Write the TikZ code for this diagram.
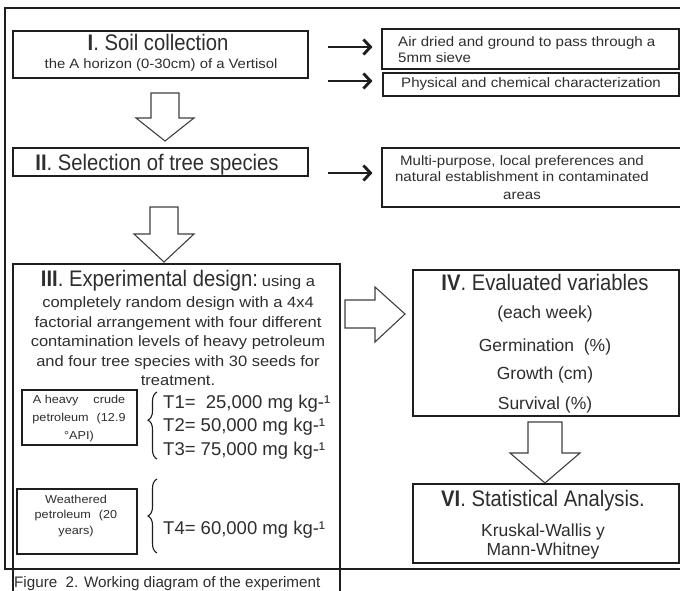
\documentclass[tikz,border=0pt]{standalone}
\usepackage{fontspec}
\setmainfont{Liberation Sans}
\newfontfamily\ttlf{Liberation Sans}[FakeStretch=0.9]
\newfontfamily\bdyf{Liberation Sans}[FakeStretch=1.1]
\usetikzlibrary{arrows.meta,decorations.pathreplacing,fit}
\definecolor{txt}{HTML}{2E2E2E}
\definecolor{ln}{HTML}{1E1E1E}
\newcommand{\hdown}[6]{%
  \draw[hollow] (#1-#5,#2) -- (#1+#5,#2) -- (#1+#5,#3) -- (#1+#6,#3) -- (#1,#4) -- (#1-#6,#3) -- (#1-#5,#3) -- cycle;}
\begin{document}
\begin{tikzpicture}[x=1pt,y=-1pt,
  boxst/.style={draw=ln, line width=1.1pt, inner sep=0pt},
  tx/.style={inner sep=0pt, text=txt},
  ttl/.style={tx, font=\ttlf\fontsize{22.5}{27}\selectfont},
  subt/.style={tx, font=\bdyf\fontsize{13.5}{16}\selectfont},
  rb/.style={tx, font=\bdyf\fontsize{13.7}{16}\selectfont},
  body/.style={tx, font=\bdyf\fontsize{15}{18}\selectfont},
  sb/.style={tx, font=\bdyf\fontsize{11.5}{14}\selectfont},
  tl/.style={tx, font=\fontsize{18.5}{22}\selectfont},
  rv/.style={tx, font=\fontsize{17.5}{21}\selectfont},
  hollow/.style={draw=ln!85, line width=1.1pt, fill=white, line join=miter},
  arr/.style={draw=ln, line width=2.9pt, -{Straight Barb[length=7pt,width=15pt]}},
  brc/.style={draw=ln, line width=1.1pt, decorate, decoration={brace, amplitude=9pt, aspect=#1}},
]
\useasboundingbox (0,0) rectangle (680,591);
\fill[white] (0,0) rectangle (680,591);

% outer frame and experimental design box
\node[boxst, fit={(5,8) (700,569)}] (frame) {};
\node[boxst, fit={(13,264) (340,620)}] (b3) {};

% I. Soil collection
\node[boxst, fit={(13,31) (308,78)}] (b1) {};
\node[ttl, anchor=base] (b1t) at (158,51) {\textbf{I}. Soil collection};
\node[subt, anchor=base] (b1s) at (161,69) {the A horizon (0-30cm) of a Vertisol};

% right boxes at top
\node[boxst, fit={(382,29) (679,69)}] (air) {};
\node[rb, anchor=base west] (air1) at (398,47) {Air dried and ground to pass through a};
\node[rb, anchor=base west] (air2) at (398,63) {5mm sieve};
\node[boxst, fit={(383,73) (679,96)}] (phys) {};
\node[rb, anchor=base west] (phyt) at (401,88) {Physical and chemical characterization};

% II. Selection
\node[boxst, fit={(13,148) (308,176)}] (b2) {};
\node[ttl, anchor=base] (b2t) at (157,170) {\textbf{II}. Selection of tree species};
\node[boxst, fit={(382,148) (690,207)}] (multi) {};
\node[rb, anchor=base] (mu1) at (522,165) {Multi-purpose, local preferences and};
\node[rb, anchor=base] (mu2) at (522,182) {natural establishment in contaminated};
\node[rb, anchor=base] (mu3) at (522,199) {areas};

% thin arrows
\coordinate (y1) at (0,47);
\coordinate (y2) at (0,81);
\coordinate (y3) at (0,173);
\draw[arr, shorten <=19pt, shorten >=9pt] (b1.east |- y1) -- (air.west |- y1);
\draw[arr, shorten <=19pt, shorten >=10pt] (b1.east |- y2) -- (phys.west |- y2);
\draw[arr, shorten <=19pt, shorten >=9pt] (b2.east |- y3) -- (multi.west |- y3);

% hollow arrows
\hdown{165}{93}{118}{141}{14}{29}
\hdown{164}{207}{234}{262}{14}{30}
\hdown{545}{422}{453}{483}{17}{35}
\draw[hollow] (345,300) -- (375,300) -- (375,287) -- (405,314) -- (375,342) -- (375,328) -- (345,328) -- cycle;

% III. Experimental design
\node[tx, anchor=base] (b3t) at (178,286) {{\ttlf\fontsize{22.5}{27}\selectfont\textbf{III}. Experimental design:} {\bdyf\fontsize{15}{18}\selectfont using a}};
\node[body, anchor=base] (l1) at (178,307) {completely random design with a 4x4};
\node[body, anchor=base] (l2) at (178,327) {factorial arrangement with four different};
\node[body, anchor=base] (l3) at (178,346) {contamination levels of heavy petroleum};
\node[body, anchor=base] (l4) at (178,366) {and four tree species with 30 seeds for};
\node[body, anchor=base] (l5) at (178,385) {treatment.};

\node[boxst, fit={(22,390) (137,445)}] (sb1) {};
\node[sb, anchor=base] (s11) at (79,403) {A heavy\hspace{1.3em}crude};
\node[sb, anchor=base] (s12) at (79,421) {petroleum\hspace{0.7em}(12.9};
\node[sb, anchor=base] (s13) at (79,439) {°API)};
\draw[brc=0.58] (157,459) -- (157,392);
\node[tl, anchor=base west] (T1) at (163,408) {T1=\ \ 25,000 mg kg-¹};
\node[tl, anchor=base west] (T2) at (163,431) {T2= 50,000 mg kg-¹};
\node[tl, anchor=base west] (T3) at (163,455) {T3= 75,000 mg kg-¹};

\node[boxst, fit={(17,489) (137,554)}] (sb2) {};
\node[sb, anchor=base] (s21) at (76,503) {Weathered};
\node[sb, anchor=base] (s22) at (76,518) {petroleum\hspace{0.7em}(20};
\node[sb, anchor=base] (s23) at (76,534) {years)};
\draw[brc=0.5] (157,553) -- (157,479);
\node[tl, anchor=base west] (T4) at (163,534) {T4= 60,000 mg kg-¹};

% caption
\node[tx, font=\fontsize{15.2}{18}\selectfont, anchor=base west] (cap) at (14,587) {Figure\ \ 2. Working diagram of the experiment};

% IV. Evaluated variables
\node[boxst, fit={(413,270) (679,416)}] (b4) {};
\node[ttl, anchor=base] (b4t) at (545,290) {\textbf{IV}. Evaluated variables};
\node[rv, anchor=base] (v1) at (545,318) {(each week)};
\node[rv, anchor=base] (v2) at (545,351) {Germination\ \ (\%)};
\node[rv, anchor=base] (v3) at (545,379) {Growth (cm)};
\node[rv, anchor=base] (v4) at (545,409) {Survival (\%)};

% VI. Statistical analysis
\node[boxst, fit={(413,484) (679,563)}] (b6) {};
\node[ttl, anchor=base] (b6t) at (543,506) {\textbf{VI}. Statistical Analysis.};
\node[rv, anchor=base] (k1) at (543,536) {Kruskal-Wallis y};
\node[rv, anchor=base] (k2) at (543,555) {Mann-Whitney};
\end{tikzpicture}
\end{document}
